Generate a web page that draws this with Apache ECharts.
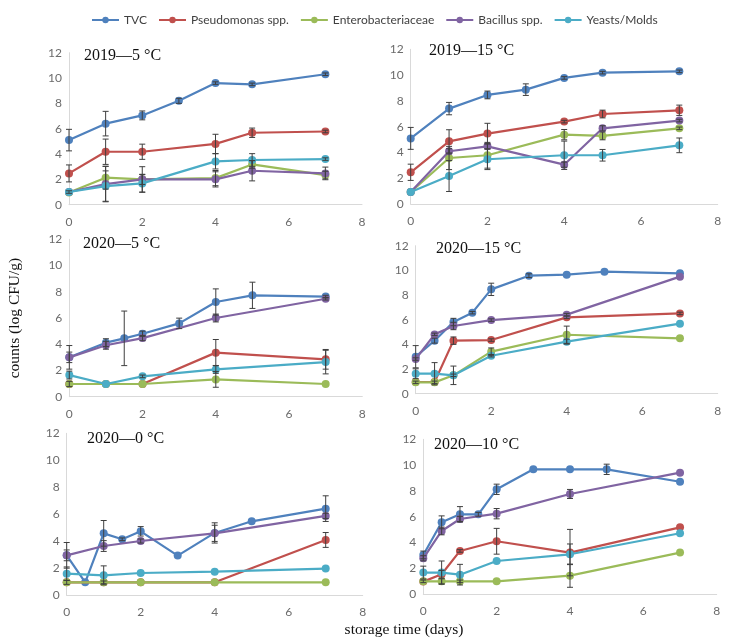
<!DOCTYPE html>
<html><head><meta charset="utf-8">
<script src="https://cdn.jsdelivr.net/npm/echarts@6/dist/echarts.min.js"></script>
<style>html,body{margin:0;padding:0;background:#fff}#c{width:731px;height:644px}</style>
</head><body><div id="c"></div>
<script>
// ---- labels ----
const seriesNames = ['TVC', 'Pseudomonas spp.', 'Enterobacteriaceae', 'Bacillus spp.', 'Yeasts/Molds'];
const panelTitles = ['2019\u20145 \u00B0C', '2019\u201415 \u00B0C', '2020\u20145 \u00B0C', '2020\u201415 \u00B0C', '2020\u20140 \u00B0C', '2020\u201410 \u00B0C'];
const xTicks = [0, 2, 4, 6, 8];
const yTicks = [0, 2, 4, 6, 8, 10, 12];

// ---- panel 1: 2019-5C ----
const p1_tvc_x = [0, 1, 2, 3, 4, 5, 7];
const p1_tvc_y = [5.1, 6.4, 7.05, 8.2, 9.6, 9.5, 10.3];
const p1_tvc_e = [0.85, 0.97, 0.35, 0.2, 0.1, 0.1, 0.1];
const p1_pse_x = [0, 1, 2, 4, 5, 7];
const p1_pse_y = [2.47, 4.18, 4.18, 4.8, 5.68, 5.78];
const p1_pse_e = [0.67, 1.0, 0.6, 0.76, 0.37, 0.1];
const p1_ent_x = [0, 1, 2, 4, 5, 7];
const p1_ent_y = [0.97, 2.13, 2.0, 2.1, 3.18, 2.34];
const p1_ent_e = [0, 0.9, 1.0, 0.6, 0.3, 0.3];
const p1_bac_x = [0, 1, 2, 4, 5, 7];
const p1_bac_y = [1.0, 1.63, 2.0, 2.0, 2.68, 2.47];
const p1_bac_e = [0, 1.4, 0.4, 0.6, 0.8, 0.5];
const p1_yea_x = [0, 1, 2, 4, 5, 7];
const p1_yea_y = [1.0, 1.47, 1.68, 3.42, 3.53, 3.6];
const p1_yea_e = [0.1, 1.2, 0.7, 0.6, 0.5, 0.1];

// ---- panel 2: 2019-15C ----
const p2_tvc_x = [0, 1, 2, 3, 4, 5, 7];
const p2_tvc_y = [5.09, 7.4, 8.46, 8.87, 9.78, 10.19, 10.29];
const p2_tvc_e = [0.85, 0.48, 0.3, 0.45, 0.1, 0.1, 0.1];
const p2_pse_x = [0, 1, 2, 4, 5, 7];
const p2_pse_y = [2.46, 4.86, 5.46, 6.39, 6.98, 7.27];
const p2_pse_e = [0.63, 0.9, 0.8, 0.1, 0.3, 0.4];
const p2_ent_x = [0, 1, 2, 4, 5, 7];
const p2_ent_y = [0.93, 3.57, 3.78, 5.38, 5.28, 5.87];
const p2_ent_e = [0, 0.9, 1.0, 0.4, 0.3, 0.1];
const p2_bac_x = [0, 1, 2, 4, 5, 7];
const p2_bac_y = [0.93, 4.09, 4.47, 3.05, 5.87, 6.47];
const p2_bac_e = [0, 0.2, 0.2, 0.2, 0.2, 0.1];
const p2_yea_x = [0, 1, 2, 4, 5, 7];
const p2_yea_y = [0.93, 2.17, 3.47, 3.78, 3.78, 4.55];
const p2_yea_e = [0, 1.2, 0.8, 1.1, 0.45, 0.57];

// ---- panel 3: 2020-5C ----
const p3_tvc_x = [0, 1, 1.5, 2, 3, 4, 5, 7];
const p3_tvc_y = [3.0, 4.12, 4.45, 4.8, 5.59, 7.22, 7.73, 7.63];
const p3_tvc_e = [0.9, 0.3, 2.08, 0.2, 0.4, 1.0, 1.0, 0.1];
const p3_pse_x = [0, 1, 2, 4, 7];
const p3_pse_y = [0.97, 0.97, 0.97, 3.36, 2.85];
const p3_pse_e = [0, 0, 0, 1.0, 0.75];
const p3_ent_x = [0, 1, 2, 4, 7];
const p3_ent_y = [0.97, 0.97, 0.97, 1.32, 0.97];
const p3_ent_e = [0.2, 0, 0, 0.6, 0];
const p3_bac_x = [0, 1, 2, 4, 7];
const p3_bac_y = [3.0, 3.92, 4.47, 6.0, 7.47];
const p3_bac_e = [0.4, 0.3, 0.2, 0.3, 0.1];
const p3_yea_x = [0, 1, 2, 4, 7];
const p3_yea_y = [1.65, 0.97, 1.55, 2.08, 2.64];
const p3_yea_e = [0.3, 0, 0.1, 0.3, 0.9];

// ---- panel 4: 2020-15C ----
const p4_tvc_x = [0, 0.5, 1, 1.5, 2, 3, 4, 5, 7];
const p4_tvc_y = [3.0, 4.3, 5.81, 6.57, 8.46, 9.57, 9.65, 9.89, 9.76];
const p4_tvc_e = [0.9, 0.2, 0.3, 0.1, 0.5, 0.15, 0.05, 0.05, 0.05];
const p4_pse_x = [0, 0.5, 1, 2, 4, 7];
const p4_pse_y = [0.95, 0.95, 4.3, 4.35, 6.19, 6.51];
const p4_pse_e = [0, 0, 0.3, 0.1, 0.1, 0.1];
const p4_ent_x = [0, 0.5, 1, 2, 4, 7];
const p4_ent_y = [0.92, 0.92, 1.49, 3.41, 4.78, 4.49];
const p4_ent_e = [0.1, 0.1, 0.1, 0.3, 0.7, 0.05];
const p4_bac_x = [0, 0.5, 1, 2, 4, 7];
const p4_bac_y = [2.81, 4.81, 5.49, 5.97, 6.41, 9.49];
const p4_bac_e = [0.1, 0.1, 0.3, 0.1, 0.1, 0.05];
const p4_yea_x = [0, 0.5, 1, 2, 4, 7];
const p4_yea_y = [1.62, 1.62, 1.49, 3.08, 4.22, 5.68];
const p4_yea_e = [0.4, 0.9, 0.75, 0.1, 0.2, 0.05];

// ---- panel 5: 2020-0C ----
const p5_tvc_x = [0, 0.5, 1, 1.5, 2, 3, 4, 5, 7];
const p5_tvc_y = [2.96, 0.96, 4.59, 4.15, 4.74, 2.94, 4.62, 5.48, 6.42];
const p5_tvc_e = [0.95, 0, 0.95, 0.1, 0.35, 0, 0.75, 0, 0.95];
const p5_pse_x = [0, 1, 2, 4, 7];
const p5_pse_y = [0.96, 0.96, 0.96, 0.96, 4.1];
const p5_pse_e = [0, 0, 0, 0, 0.55];
const p5_ent_x = [0, 1, 2, 4, 7];
const p5_ent_y = [0.96, 0.96, 0.96, 0.96, 0.96];
const p5_ent_e = [0.15, 0.1, 0, 0, 0];
const p5_bac_x = [0, 1, 2, 4, 7];
const p5_bac_y = [2.96, 3.65, 4.02, 4.59, 5.88];
const p5_bac_e = [0.4, 0.4, 0.15, 0.6, 0.2];
const p5_yea_x = [0, 1, 2, 4, 7];
const p5_yea_y = [1.6, 1.48, 1.65, 1.75, 1.98];
const p5_yea_e = [0.5, 0.7, 0, 0, 0];

// ---- panel 6: 2020-10C ----
const p6_tvc_x = [0, 0.5, 1, 1.5, 2, 3, 4, 5, 7];
const p6_tvc_y = [3.03, 5.56, 6.18, 6.18, 8.12, 9.67, 9.67, 9.67, 8.71];
const p6_tvc_e = [0.3, 0.5, 0.6, 0.15, 0.4, 0.05, 0.05, 0.4, 0.05];
const p6_pse_x = [0, 0.5, 1, 2, 4, 7];
const p6_pse_y = [0.96, 1.53, 3.34, 4.09, 3.21, 5.17];
const p6_pse_e = [0, 0.3, 0.1, 1.0, 1.8, 0.05];
const p6_ent_x = [0, 0.5, 1, 2, 4, 7];
const p6_ent_y = [0.98, 0.98, 0.98, 0.98, 1.42, 3.21];
const p6_ent_e = [0.1, 0.2, 0.1, 0, 0.9, 0.05];
const p6_bac_x = [0, 0.5, 1, 2, 4, 7];
const p6_bac_y = [2.77, 4.89, 5.82, 6.23, 7.76, 9.41];
const p6_bac_e = [0.2, 0.3, 0.2, 0.4, 0.35, 0.05];
const p6_yea_x = [0, 0.5, 1, 2, 4, 7];
const p6_yea_y = [1.66, 1.66, 1.5, 2.56, 3.08, 4.71];
const p6_yea_e = [0.5, 0.9, 0.8, 0, 0.8, 0.05];

const panelData = [
  [[p1_tvc_x,p1_tvc_y,p1_tvc_e],[p1_pse_x,p1_pse_y,p1_pse_e],[p1_ent_x,p1_ent_y,p1_ent_e],[p1_bac_x,p1_bac_y,p1_bac_e],[p1_yea_x,p1_yea_y,p1_yea_e]],
  [[p2_tvc_x,p2_tvc_y,p2_tvc_e],[p2_pse_x,p2_pse_y,p2_pse_e],[p2_ent_x,p2_ent_y,p2_ent_e],[p2_bac_x,p2_bac_y,p2_bac_e],[p2_yea_x,p2_yea_y,p2_yea_e]],
  [[p3_tvc_x,p3_tvc_y,p3_tvc_e],[p3_pse_x,p3_pse_y,p3_pse_e],[p3_ent_x,p3_ent_y,p3_ent_e],[p3_bac_x,p3_bac_y,p3_bac_e],[p3_yea_x,p3_yea_y,p3_yea_e]],
  [[p4_tvc_x,p4_tvc_y,p4_tvc_e],[p4_pse_x,p4_pse_y,p4_pse_e],[p4_ent_x,p4_ent_y,p4_ent_e],[p4_bac_x,p4_bac_y,p4_bac_e],[p4_yea_x,p4_yea_y,p4_yea_e]],
  [[p5_tvc_x,p5_tvc_y,p5_tvc_e],[p5_pse_x,p5_pse_y,p5_pse_e],[p5_ent_x,p5_ent_y,p5_ent_e],[p5_bac_x,p5_bac_y,p5_bac_e],[p5_yea_x,p5_yea_y,p5_yea_e]],
  [[p6_tvc_x,p6_tvc_y,p6_tvc_e],[p6_pse_x,p6_pse_y,p6_pse_e],[p6_ent_x,p6_ent_y,p6_ent_e],[p6_bac_x,p6_bac_y,p6_bac_e],[p6_yea_x,p6_yea_y,p6_yea_e]]
];

// ---- layout / style ----
const colors = ['#4F81BD', '#C0504D', '#9BBB59', '#8064A2', '#4BACC6'];
const grids = [
  {left: 69, top: 52.7, width: 293, height: 152},
  {left: 410.7, top: 49.3, width: 307, height: 154.7},
  {left: 69.3, top: 239.3, width: 293, height: 157.4},
  {left: 415.7, top: 245.7, width: 302, height: 148},
  {left: 66.7, top: 433.3, width: 296, height: 162},
  {left: 423.3, top: 439.3, width: 293.4, height: 154.7}
];
const titlePos = [[84, 48], [429, 43], [83, 236], [436, 241], [87, 431], [434, 437]];
const sansFont = 'Lato';
const serifFont = 'Liberation Serif';

const chart = echarts.init(document.getElementById('c'), null, {renderer: 'canvas'});

const gridOpt = grids.map(g => Object.assign({outerBoundsMode: 'none', containLabel: false}, g));
const xAxes = grids.map((g, i) => ({
  type: 'value', gridIndex: i, min: xTicks[0], max: xTicks[xTicks.length - 1], interval: xTicks[1] - xTicks[0],
  axisLine: {show: true, lineStyle: {color: '#D9D9D9', width: 1}},
  axisTick: {show: false}, splitLine: {show: false},
  axisLabel: {color: '#6b6b6b', fontFamily: sansFont, fontSize: 12, margin: 11, showMaxLabel: true}
}));
const yAxes = grids.map((g, i) => ({
  type: 'value', gridIndex: i, min: yTicks[0], max: yTicks[yTicks.length - 1], interval: yTicks[1] - yTicks[0],
  axisLine: {show: true, lineStyle: {color: '#D9D9D9', width: 1}},
  axisTick: {show: false}, splitLine: {show: false},
  axisLabel: {color: '#6b6b6b', fontFamily: sansFont, fontSize: 12, margin: 7}
}));

function errItem(params, api) {
  const x = api.value(0), y = api.value(1), e = api.value(2);
  if (!(e > 0.08)) return null;
  const t = api.coord([x, y + e]), b = api.coord([x, y - e]);
  const hw = 3, st = {stroke: '#3f3f3f', lineWidth: 1};
  return {type: 'group', children: [
    {type: 'line', shape: {x1: t[0], y1: t[1], x2: b[0], y2: b[1]}, style: st},
    {type: 'line', shape: {x1: t[0] - hw, y1: t[1], x2: t[0] + hw, y2: t[1]}, style: st},
    {type: 'line', shape: {x1: b[0] - hw, y1: b[1], x2: b[0] + hw, y2: b[1]}, style: st}
  ]};
}

const series = [];
panelData.forEach((panel, pi) => {
  panel.forEach((s, si) => {
    const pts = s[0].map((x, k) => [x, s[1][k]]);
    series.push({
      type: 'line', name: seriesNames[si], xAxisIndex: pi, yAxisIndex: pi,
      data: pts, symbol: 'circle', symbolSize: 8, showSymbol: true,
      lineStyle: {color: colors[si], width: 2.2},
      itemStyle: {color: colors[si]},
      z: 2 + si, animation: false, emphasis: {disabled: true}
    });
  });
  panel.forEach((s, si) => {
    const pts = s[0].map((x, k) => [x, s[1][k], s[2][k]]);
    series.push({
      type: 'custom', name: 'err', xAxisIndex: pi, yAxisIndex: pi,
      data: pts, renderItem: errItem, z: 10, animation: false, silent: true
    });
  });
});

const option = {
  backgroundColor: '#ffffff',
  animation: false,
  color: colors,
  legend: {
    data: seriesNames, left: 86, top: 9, itemGap: 11, itemWidth: 27, itemHeight: 8,
    textStyle: {color: '#404040', fontFamily: sansFont, fontSize: 12},
    selectedMode: false
  },
  title: panelTitles.map((t, i) => ({
    text: t, left: titlePos[i][0], top: titlePos[i][1], padding: 0,
    textStyle: {fontFamily: serifFont, fontSize: 16, fontWeight: 'normal', color: '#111'}
  })),
  grid: gridOpt, xAxis: xAxes, yAxis: yAxes, series: series,
  graphic: [
    {type: 'text', x: 15, y: 318, rotation: Math.PI / 2, style: {text: 'counts (log CFU/g)', font: '15.5px "Liberation Serif"', fill: '#111', align: 'center', verticalAlign: 'middle'}},
    {type: 'text', x: 404, y: 630, style: {text: 'storage time (days)', font: '15.5px "Liberation Serif"', fill: '#111', align: 'center', verticalAlign: 'middle'}}
  ]
};
chart.setOption(option);
</script></body></html>
